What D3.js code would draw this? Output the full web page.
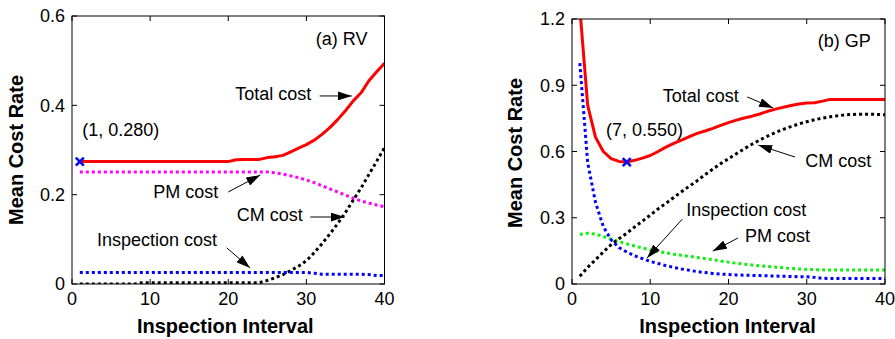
<!DOCTYPE html>
<html lang="en">
<head>
<meta charset="UTF-8">
<title>Mean cost rate vs inspection interval</title>
<style>
  body { margin: 0; background: #fff; }
  svg { font-family: Arial, "Liberation Sans", sans-serif; }
  .frame { fill: none; stroke: #000; stroke-width: 1; }
  .tick-in { stroke: #000; stroke-width: 1; }
  .tick-label { font-size: 18px; fill: #000; }
  .axis-title { font-size: 20px; font-weight: bold; fill: #000; }
  .note { font-size: 18px; fill: #000; }
  .ann-line { stroke: #000; stroke-width: 1; }
</style>
<script src="https://cdn.jsdelivr.net/npm/d3@7"></script>
</head>
<body>
<script>
// inspection intervals (x)
var intervals = [1,2,3,4,5,6,7,8,9,10,11,12,13,14,15,16,17,18,19,20,
                 21,22,23,24,25,26,27,28,29,30,31,32,33,34,35,36,37,38,39,40];

// (a) RV
var rvTotal = [0.274,0.274,0.274,0.274,0.274,0.274,0.274,0.274,0.274,0.274,
               0.274,0.274,0.274,0.274,0.274,0.274,0.274,0.274,0.274,0.274,
               0.278,0.279,0.279,0.279,0.283,0.285,0.288,0.296,0.304,0.312,
               0.322,0.335,0.350,0.368,0.388,0.410,0.428,0.455,0.475,0.494];
var rvPM = [0.251,0.251,0.251,0.251,0.251,0.251,0.251,0.251,0.251,0.251,
            0.251,0.251,0.251,0.251,0.251,0.251,0.251,0.251,0.251,0.251,
            0.251,0.251,0.251,0.251,0.251,0.249,0.246,0.242,0.238,0.233,
            0.227,0.220,0.213,0.206,0.199,0.192,0.186,0.181,0.177,0.173];
var rvCM = [0.000,0.000,0.000,0.000,0.000,0.000,0.000,0.000,0.003,0.003,
            0.003,0.003,0.003,0.003,0.003,0.003,0.003,0.003,0.003,0.003,
            0.003,0.003,0.003,0.003,0.008,0.014,0.021,0.030,0.040,0.052,
            0.070,0.090,0.112,0.135,0.160,0.188,0.215,0.245,0.275,0.305];
var rvInsp = [0.026,0.026,0.026,0.026,0.026,0.026,0.026,0.026,0.026,0.026,
              0.026,0.026,0.026,0.026,0.026,0.026,0.026,0.026,0.026,0.026,
              0.026,0.026,0.026,0.026,0.026,0.026,0.026,0.026,0.026,0.026,
              0.024,0.022,0.022,0.022,0.022,0.022,0.022,0.021,0.019,0.019];

// (b) GP
var gpTotal = [1.250,0.810,0.665,0.600,0.568,0.555,0.552,0.560,0.570,0.582,
               0.600,0.620,0.637,0.652,0.667,0.682,0.693,0.705,0.718,0.731,
               0.742,0.752,0.760,0.770,0.782,0.792,0.800,0.808,0.815,0.820,
               0.821,0.828,0.836,0.836,0.836,0.836,0.836,0.836,0.836,0.836];
var gpPM = [0.225,0.230,0.226,0.215,0.203,0.192,0.182,0.172,0.163,0.154,
            0.148,0.141,0.135,0.130,0.125,0.120,0.115,0.110,0.104,0.099,
            0.094,0.090,0.086,0.082,0.079,0.076,0.073,0.070,0.068,0.066,
            0.065,0.064,0.063,0.063,0.063,0.063,0.063,0.063,0.063,0.063];
var gpCM = [0.035,0.075,0.110,0.145,0.178,0.205,0.230,0.258,0.285,0.312,
            0.340,0.365,0.392,0.418,0.443,0.468,0.495,0.520,0.545,0.567,
            0.590,0.612,0.633,0.652,0.670,0.686,0.700,0.713,0.725,0.735,
            0.744,0.751,0.757,0.762,0.766,0.768,0.769,0.769,0.768,0.766];
var gpInsp = [1.000,0.550,0.370,0.260,0.200,0.165,0.145,0.128,0.115,0.102,
              0.093,0.083,0.075,0.068,0.062,0.056,0.052,0.048,0.045,0.043,
              0.041,0.040,0.039,0.038,0.037,0.036,0.035,0.034,0.033,0.033,
              0.030,0.026,0.025,0.025,0.025,0.025,0.025,0.025,0.025,0.025];

// tick values
var xTicks = [0, 10, 20, 30, 40];
var yTicksRV = [0, 0.2, 0.4, 0.6];
var yTicksGP = [0, 0.3, 0.6, 0.9, 1.2];

var width = 895, height = 339;
var svg = d3.select("body").append("svg")
    .attr("width", width)
    .attr("height", height);

// arrow head
svg.append("defs").append("marker")
    .attr("id", "arrow")
    .attr("markerUnits", "userSpaceOnUse")
    .attr("viewBox", "0 0 14 9")
    .attr("refX", 14).attr("refY", 4.5)
    .attr("markerWidth", 14).attr("markerHeight", 9)
    .attr("orient", "auto")
  .append("path")
    .attr("d", "M0,0 L14,4.5 L0,9 Z")
    .attr("fill", "#000");

function drawPanel(p) {
    var x = d3.scaleLinear().domain([0, 40]).range([p.left, p.right]);
    var y = d3.scaleLinear().domain([0, p.yMax]).range([p.bottom, p.top]);
    var g = svg.append("g");

    g.append("clipPath").attr("id", p.id + "-clip")
      .append("rect")
        .attr("x", p.left).attr("y", p.top)
        .attr("width", p.right - p.left).attr("height", p.bottom - p.top);

    // inward ticks on all four sides
    xTicks.forEach(function(t) {
        g.append("line").attr("class", "tick-in")
            .attr("x1", x(t)).attr("x2", x(t)).attr("y1", p.bottom).attr("y2", p.bottom - 5);
        g.append("line").attr("class", "tick-in")
            .attr("x1", x(t)).attr("x2", x(t)).attr("y1", p.top).attr("y2", p.top + 5);
        g.append("text").attr("class", "tick-label")
            .attr("x", x(t)).attr("y", p.bottom + 21)
            .attr("text-anchor", "middle")
            .text(t);
    });
    p.yTicks.forEach(function(t) {
        g.append("line").attr("class", "tick-in")
            .attr("x1", p.left).attr("x2", p.left + 5).attr("y1", y(t)).attr("y2", y(t));
        g.append("line").attr("class", "tick-in")
            .attr("x1", p.right).attr("x2", p.right - 5).attr("y1", y(t)).attr("y2", y(t));
        g.append("text").attr("class", "tick-label")
            .attr("x", p.left - 7).attr("y", y(t))
            .attr("dy", "0.35em")
            .attr("text-anchor", "end")
            .text(t);
    });

    var line = d3.line()
        .x(function(d, i) { return x(intervals[i]); })
        .y(function(d) { return y(d); });

    var plot = g.append("g").attr("clip-path", "url(#" + p.id + "-clip)");
    p.series.forEach(function(s) {
        plot.append("path")
            .attr("d", line(s.values))
            .attr("fill", "none")
            .attr("stroke", s.color)
            .attr("stroke-width", 3)
            .attr("stroke-dasharray", s.dotted ? "3,3" : null)
            .attr("stroke-linejoin", "round");
    });

    // optimum marker (x)
    var mx = x(intervals[p.optIndex]), my = y(p.series[0].values[p.optIndex]);
    g.append("path")
        .attr("d", "M" + (mx - 4) + "," + (my - 4) + "L" + (mx + 4) + "," + (my + 4) +
                   "M" + (mx - 4) + "," + (my + 4) + "L" + (mx + 4) + "," + (my - 4))
        .attr("stroke", "#0000ff")
        .attr("stroke-width", 2.5);

    g.append("rect").attr("class", "frame")
        .attr("x", p.left).attr("y", p.top)
        .attr("width", p.right - p.left).attr("height", p.bottom - p.top);

    // annotations
    p.notes.forEach(function(n) {
        g.append("text").attr("class", "note")
            .attr("x", x(n.at[0])).attr("y", y(n.at[1]))
            .text(n.text);
        if (n.from) {
            g.append("line").attr("class", "ann-line")
                .attr("x1", x(n.from[0])).attr("y1", y(n.from[1]))
                .attr("x2", x(n.to[0])).attr("y2", y(n.to[1]))
                .attr("marker-end", "url(#arrow)");
        }
    });

    // axis titles
    g.append("text").attr("class", "axis-title")
        .attr("x", (p.left + p.right) / 2 + p.xTitleShift).attr("y", 333)
        .attr("text-anchor", "middle")
        .text("Inspection Interval");
    g.append("text").attr("class", "axis-title")
        .attr("transform", "translate(" + p.yTitleX + "," + p.yTitleY + ") rotate(-90)")
        .attr("text-anchor", "middle")
        .text("Mean Cost Rate");
}

drawPanel({
    id: "rv", left: 72, right: 384.5, top: 16, bottom: 284, yMax: 0.6,
    yTicks: yTicksRV, optIndex: 0, xTitleShift: -3, yTitleX: 23, yTitleY: 150,
    series: [
        {values: rvTotal, color: "#ff0000"},
        {values: rvPM, color: "#ff00ff", dotted: true},
        {values: rvCM, color: "#000000", dotted: true},
        {values: rvInsp, color: "#0000ff", dotted: true}
    ],
    notes: [
        {text: "(a) RV", at: [31.2, 0.535]},
        {text: "(1, 0.280)", at: [1.3, 0.331]},
        {text: "Total cost", at: [20.9, 0.412], from: [31.7, 0.421], to: [35.8, 0.421]},
        {text: "PM cost", at: [10.4, 0.193], from: [20.0, 0.206], to: [24.1, 0.244]},
        {text: "CM cost", at: [21.1, 0.141], from: [30.5, 0.150], to: [34.9, 0.150]},
        {text: "Inspection cost", at: [3.2, 0.085], from: [19.8, 0.081], to: [22.8, 0.036]}
    ]
});

drawPanel({
    id: "gp", left: 572, right: 885, top: 19, bottom: 284, yMax: 1.2,
    yTicks: yTicksGP, optIndex: 6, xTitleShift: -1, yTitleX: 522, yTitleY: 153,
    series: [
        {values: gpTotal, color: "#ff0000"},
        {values: gpPM, color: "#11ee11", dotted: true},
        {values: gpCM, color: "#000000", dotted: true},
        {values: gpInsp, color: "#0000ff", dotted: true}
    ],
    notes: [
        {text: "(b) GP", at: [31.4, 1.073]},
        {text: "(7, 0.550)", at: [4.35, 0.670]},
        {text: "Total cost", at: [11.6, 0.824], from: [22.4, 0.847], to: [25.7, 0.797]},
        {text: "CM cost", at: [29.8, 0.530], from: [28.5, 0.575], to: [23.8, 0.629]},
        {text: "Inspection cost", at: [14.6, 0.308], from: [14.1, 0.294], to: [9.6, 0.118]},
        {text: "PM cost", at: [22.1, 0.190], from: [21.2, 0.208], to: [18.0, 0.149]}
    ]
});
</script>
</body>
</html>
